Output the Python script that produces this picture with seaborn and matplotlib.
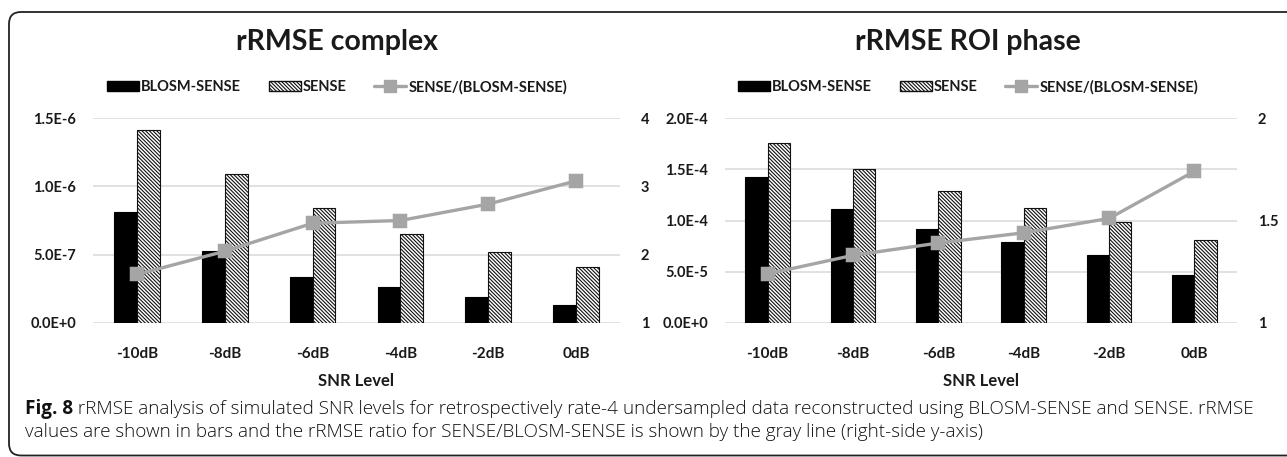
import numpy as np
import pandas as pd
import matplotlib
matplotlib.use("Agg")
import matplotlib.pyplot as plt
import seaborn as sns
from matplotlib.patches import Patch, FancyBboxPatch
from matplotlib.lines import Line2D
from matplotlib.ticker import FuncFormatter, FixedLocator
from matplotlib.transforms import IdentityTransform

# ---------------- data ----------------
snr_levels = ["-10dB", "-8dB", "-6dB", "-4dB", "-2dB", "0dB"]
series_names = ["BLOSM-SENSE", "SENSE"]
ratio_name = "SENSE/(BLOSM-SENSE)"

complex_blosm = [8.15e-7, 5.3e-7, 3.4e-7, 2.6e-7, 1.9e-7, 1.35e-7]
complex_sense = [1.41e-6, 1.09e-6, 8.4e-7, 6.5e-7, 5.2e-7, 4.1e-7]
complex_ratio = [1.71, 2.05, 2.46, 2.50, 2.74, 3.08]

phase_blosm = [1.42e-4, 1.11e-4, 9.2e-5, 7.9e-5, 6.6e-5, 4.65e-5]
phase_sense = [1.76e-4, 1.50e-4, 1.29e-4, 1.12e-4, 9.9e-5, 8.1e-5]
phase_ratio = [1.24, 1.33, 1.39, 1.44, 1.51, 1.74]

titles = ["rRMSE complex", "rRMSE ROI phase"]
x_title = "SNR Level"
left_ticks = [[0, 5e-7, 1e-6, 1.5e-6], [0, 5e-5, 1e-4, 1.5e-4, 2e-4]]
right_ticks = [[1, 2, 3, 4], [1, 1.5, 2]]
right_labels = [["1", "2", "3", "4"], ["1", "1.5", "2"]]

caption_bold = "Fig. 8"
caption_l1 = (" rRMSE analysis of simulated SNR levels for retrospectively rate-4 undersampled "
              "data reconstructed using BLOSM-SENSE and SENSE. rRMSE")
caption_l2 = ("values are shown in bars and the rRMSE ratio for SENSE/BLOSM-SENSE is shown "
              "by the gray line (right-side y-axis)")

# ---------------- style ----------------
sns.set_theme(style="white")
plt.rcParams["font.family"] = ["Lato", "DejaVu Sans"]
plt.rcParams["hatch.linewidth"] = 0.8

TXT = "#1a1a1a"
GRID = "#d9d9d9"
LINEC = "#a5a5a5"
HATCH = "\\" * 9

W, H = 1287, 457
fig = plt.figure(figsize=(W / 100, H / 100), dpi=100)
fig.patch.set_facecolor("white")

def fmt_e(v, pos=None):
    m, e = f"{v:.1E}".split("E")
    return f"{m}E{int(e):+d}"

panels = [
    (complex_blosm, complex_sense, complex_ratio, (93, 620), (0, 1.5e-6), (1, 4)),
    (phase_blosm, phase_sense, phase_ratio, (725, 1237), (0, 2e-4), (1, 2)),
]
y_top, y_bot = 118, 323

for i, (b, s, r, (x0, x1), ylim, y2lim) in enumerate(panels):
    ax = fig.add_axes([x0 / W, 1 - y_bot / H, (x1 - x0) / W, (y_bot - y_top) / H])
    df = pd.DataFrame({
        "snr": snr_levels * 2,
        "value": list(b) + list(s),
        "series": [series_names[0]] * len(snr_levels) + [series_names[1]] * len(snr_levels),
    })
    sns.barplot(data=df, x="snr", y="value", hue="series", order=snr_levels,
                hue_order=series_names, palette=["black", "white"], width=0.52,
                gap=0, edgecolor="black", linewidth=0.8, ax=ax, legend=False,
                saturation=1)
    n = len(snr_levels)
    for j, bar in enumerate(ax.patches):
        if j >= n:
            bar.set_hatch(HATCH)
            bar.set_facecolor("white")
            bar.set_edgecolor("#111111")
    ax.set_ylim(*ylim)
    ax.yaxis.set_major_locator(FixedLocator(left_ticks[i]))
    ax.yaxis.set_major_formatter(FuncFormatter(fmt_e))
    ax.set_xlim(-0.5, n - 0.5)
    ax.grid(axis="y", color=GRID, linewidth=1.1)
    ax.set_axisbelow(True)
    for sp in ax.spines.values():
        sp.set_visible(False)
    ax.tick_params(axis="y", length=0, labelsize=10.5, colors=TXT, pad=12)
    ax.tick_params(axis="x", length=0, labelsize=11, colors=TXT, pad=17)
    for lab in ax.get_yticklabels() + ax.get_xticklabels():
        lab.set_fontweight("bold")
    ax.set_xlabel(x_title, fontsize=12, fontweight="bold", color=TXT, labelpad=9)
    ax.set_ylabel("")

    ax2 = ax.twinx()
    sns.pointplot(x=snr_levels, y=r, order=snr_levels, color=LINEC, markers="s",
                  linestyles="-", linewidth=2.4, markersize=9, ax=ax2)
    ax2.set_ylim(*y2lim)
    ax2.set_xlim(-0.5, n - 0.5)
    ax2.yaxis.set_major_locator(FixedLocator(right_ticks[i]))
    ax2.set_yticklabels(right_labels[i])
    for sp in ax2.spines.values():
        sp.set_visible(False)
    ax2.tick_params(axis="y", length=0, labelsize=10.5, colors=TXT, pad=15)
    for lab in ax2.get_yticklabels():
        lab.set_fontweight("bold")
    ax2.set_ylabel("")
    ax2.grid(False)

    cx = [337, 968][i]
    fig.text(cx / W, 1 - 42 / H, titles[i], ha="center", va="center",
             fontsize=20.5, fontweight="bold", color=TXT)

    handles = [
        Patch(facecolor="black", edgecolor="black"),
        Patch(facecolor="white", edgecolor="#111111", hatch=HATCH),
        Line2D([0], [0], color=LINEC, linewidth=2.4, marker="s", markersize=8),
    ]
    fig.legend(handles, series_names + [ratio_name], loc="center",
               bbox_to_anchor=(cx / W, 1 - 87 / H), ncol=3, frameon=False,
               prop={"weight": "bold", "size": 10.5}, handlelength=2.2,
               handleheight=0.75, handletextpad=0.15, columnspacing=1.9,
               labelcolor=TXT)

# caption
cap_fs = 13.6
cap_fam = ["Open Sans", "DejaVu Sans"]
t1 = fig.text(25 / W, 1 - 409 / H, caption_bold, ha="left", va="center",
              fontsize=cap_fs, fontweight="bold", color="#111111", family=cap_fam)
fig.canvas.draw()
bb = t1.get_window_extent()
fig.text(bb.x1 / W, 1 - 409 / H, caption_l1, ha="left", va="center",
         fontsize=cap_fs, color="#111111", family=cap_fam, fontweight="light")
fig.text(25 / W, 1 - 432 / H, caption_l2, ha="left", va="center",
         fontsize=cap_fs, color="#111111", family=cap_fam, fontweight="light")

# rounded border box (pixel coordinates)
box = FancyBboxPatch((9, 1.5), 1320, 443.5, boxstyle="round,pad=0,rounding_size=12",
                     transform=IdentityTransform(), facecolor="none",
                     edgecolor="#222222", linewidth=1.3)
fig.patches.append(box)

fig.savefig("out.png", dpi=100)
